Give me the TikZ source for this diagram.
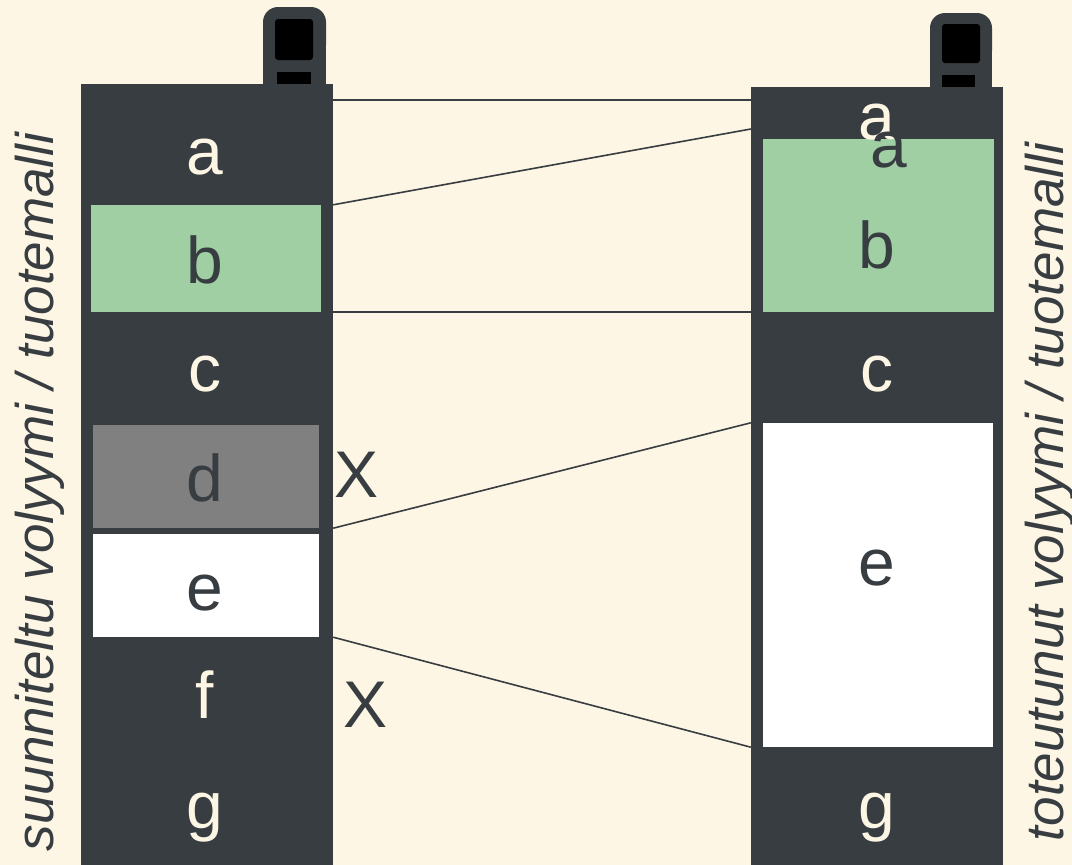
\documentclass[tikz,border=0pt]{standalone}
\usepackage{fontspec}
\setmainfont{Liberation Sans}
\usetikzlibrary{positioning}

\definecolor{bgcream}{HTML}{FEF6E4}
\definecolor{slate}{HTML}{383D42}
\definecolor{leafgreen}{HTML}{A0CFA4}
\definecolor{midgrey}{HTML}{808080}

\begin{document}
\begin{tikzpicture}[x=1pt, y=-1pt,
    column/.style={fill=slate, inner sep=0pt, minimum width=252pt, minimum height=790pt},
    seg/.style={inner sep=0pt},
    lbl/.style={anchor=base, inner sep=0pt, font=\fontsize{66}{70}\selectfont},
    sidetext/.style={anchor=base, inner sep=0pt, rotate=90, text=slate, font=\itshape\fontsize{53}{60}\selectfont},
    link/.style={draw=slate, line width=1.6pt}]
    % Background
    \fill[bgcream] (0,0) rectangle (1072,865);
    \useasboundingbox (0,0) rectangle (1072,865);

    % Tabs on top of the columns
    \fill[slate, rounded corners=15pt] (263,7) rectangle (326,60);
    \fill[slate] (263,40) rectangle (326,86);
    \fill[black, rounded corners=3pt] (275,19) rectangle (313,60);
    \fill[black] (277,72) rectangle (311,84);

    \fill[slate, rounded corners=15pt] (930,13) rectangle (992,66);
    \fill[slate] (930,46) rectangle (992,89);
    \fill[black, rounded corners=3pt] (942,24) rectangle (980,63);
    \fill[black] (942,75) rectangle (975,87);

    % Columns
    \node[column] (colL) at (207,479) {};
    \node[column] (colR) at (877,482) {};

    % Left segments
    \node[seg, fill=leafgreen, minimum width=230pt, minimum height=107pt] (lb) at (206,258.5) {};
    \node[seg, fill=midgrey, minimum width=226pt, minimum height=103pt] (ld) at (206,476.5) {};
    \node[seg, fill=white, minimum width=226pt, minimum height=103pt] (le) at (206,585.5) {};

    % Right segments
    \node[seg, fill=leafgreen, minimum width=231pt, minimum height=173pt] (rb) at (878.5,225.5) {};
    \node[seg, fill=white, minimum width=230pt, minimum height=324pt] (re) at (878,585) {};

    % Left labels
    \node[lbl, text=bgcream] (la) at (205,174) {a};
    \node[lbl, text=slate] (lbt) at (205,283) {b};
    \node[lbl, text=bgcream] (lc) at (205,391) {c};
    \node[lbl, text=slate] (ldt) at (205,501) {d};
    \node[lbl, text=slate] (let) at (205,610) {e};
    \node[lbl, text=bgcream] (lf) at (205,718) {f};
    \node[lbl, text=bgcream] (lg) at (205,828) {g};
    \node[lbl, text=slate] (xd) at (357,497) {X};
    \node[lbl, text=slate] (xf) at (366,727) {X};

    % Right labels
    \node[lbl, text=bgcream] (ra) at (877,139) {a};
    \node[lbl, text=slate] (ra2) at (889,167) {a};
    \node[lbl, text=slate] (rbt) at (877,268) {b};
    \node[lbl, text=bgcream] (rc) at (877,391) {c};
    \node[lbl, text=slate] (ret) at (877,585) {e};
    \node[lbl, text=bgcream] (rg) at (877,828) {g};

    % Side captions
    \node[sidetext] (capL) at (53,492) {suunniteltu volyymi / tuotemalli};
    \node[sidetext] (capR) at (1063,492) {toteutunut volyymi / tuotemalli};

    % Connectors
    \coordinate (topL) at (colL.east |- 0,100);
    \coordinate (topR) at (colR.west |- 0,100);
    \coordinate (aR) at (colR.west |- 0,129);
    \draw[link] (topL) -- (topR);
    \draw[link] (colL.east |- lb.north) -- (aR);
    \draw[link] (colL.east |- lb.south) -- (colR.west |- rb.south);
    \draw[link] (colL.east |- ld.south) -- (colR.west |- re.north);
    \draw[link] (colL.east |- le.south) -- (colR.west |- re.south);
\end{tikzpicture}
\end{document}
